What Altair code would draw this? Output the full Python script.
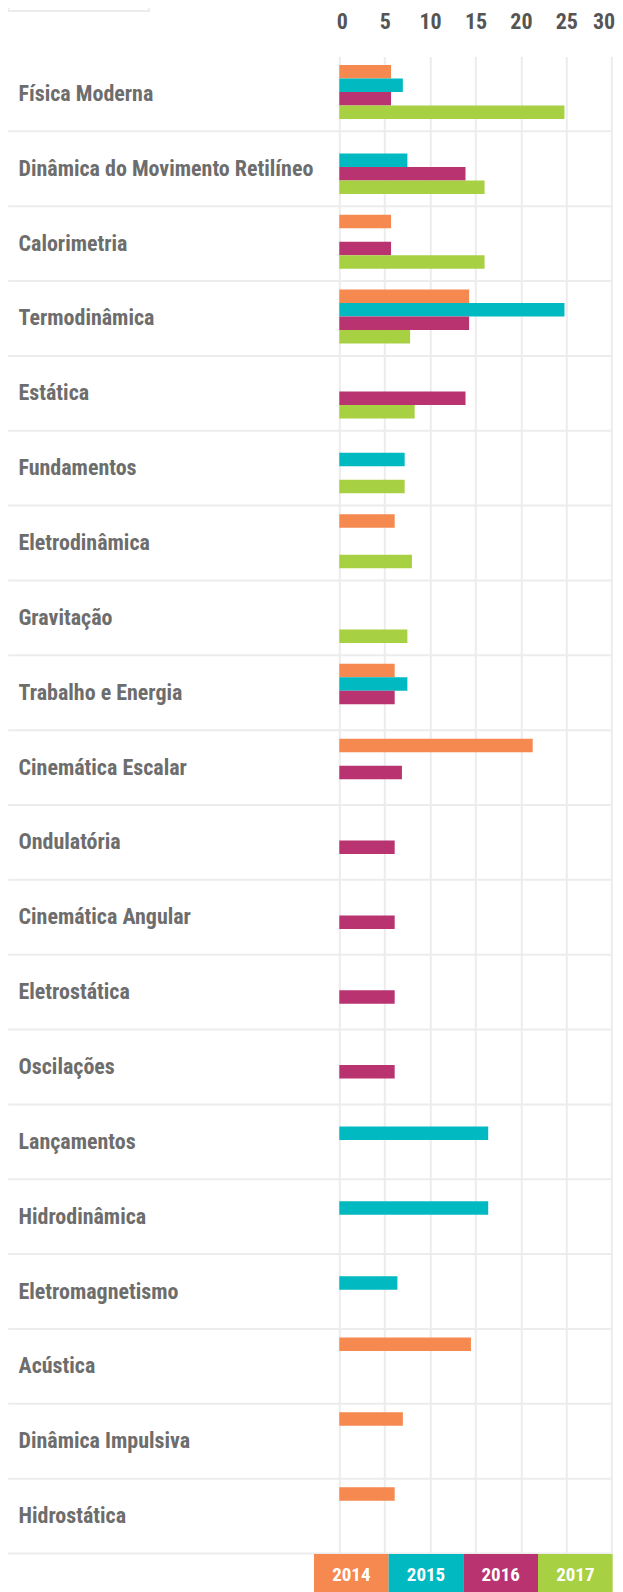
import altair as alt
import pandas as pd

categories = ["Física Moderna", "Dinâmica do Movimento Retilíneo", "Calorimetria",
              "Termodinâmica", "Estática", "Fundamentos", "Eletrodinâmica", "Gravitação",
              "Trabalho e Energia", "Cinemática Escalar", "Ondulatória", "Cinemática Angular",
              "Eletrostática", "Oscilações", "Lançamentos", "Hidrodinâmica",
              "Eletromagnetismo", "Acústica", "Dinâmica Impulsiva", "Hidrostática"]

years = ["2014", "2015", "2016", "2017"]
colors = ["#F58950", "#00B9C1", "#B8336F", "#A8D043"]

v2014 = [5.7, None, 5.7, 14.3, None, None, 6.1, None, 6.1, 21.3,
         None, None, None, None, None, None, None, 14.5, 7.0, 6.1]
v2015 = [7.0, 7.5, None, 24.8, None, 7.2, None, None, 7.5, None,
         None, None, None, None, 16.4, 16.4, 6.4, None, None, None]
v2016 = [5.7, 13.9, 5.7, 14.3, 13.9, None, None, None, 6.1, 6.9,
         6.1, 6.1, 6.1, 6.1, None, None, None, None, None, None]
v2017 = [24.8, 16.0, 16.0, 7.8, 8.3, 7.2, 8.0, 7.5, None, None,
         None, None, None, None, None, None, None, None, None, None]

ticks = [0, 5, 10, 15, 20, 25, 30]

series = dict(zip(years, [v2014, v2015, v2016, v2017]))
rows = []
for y, vals in series.items():
    for c, v in zip(categories, vals):
        if v is not None:
            rows.append({"topic": c, "year": y, "value": v})
df = pd.DataFrame(rows)
sep_df = pd.DataFrame({"topic": categories})
leg_df = pd.DataFrame({"year": years})

FONT = "'Roboto Condensed', 'Open Sans Condensed', sans-serif"
W = 272.4
H = 1497

color_scale = alt.Scale(domain=years, range=colors)
y_scale = alt.Scale(domain=categories, paddingInner=0, paddingOuter=0)

bars = alt.Chart(df).mark_bar().encode(
    x=alt.X("value:Q",
            scale=alt.Scale(domain=[0, 30], nice=False, zero=True),
            axis=alt.Axis(orient="top", values=ticks, title=None, grid=True,
                          gridColor="#ececec", gridWidth=2, domain=False,
                          ticks=False, tickSize=0, labelPadding=35,
                          labelBaseline="middle", labelFont=FONT, labelFontSize=22,
                          labelFontWeight="bold", labelColor="#555555",
                          labelFlush=True, labelFlushOffset=3)),
    y=alt.Y("topic:N", sort=categories, scale=y_scale,
            axis=alt.Axis(title=None, labelAlign="left", labelPadding=321.3,
                          ticks=False, tickSize=0, domain=False, grid=False,
                          labelBaseline="middle", labelFont=FONT, labelFontSize=22,
                          labelFontWeight="bold", labelColor="#6d6d6d",
                          labelLimit=330)),
    yOffset=alt.YOffset("year:N", sort=years,
                        scale=alt.Scale(domain=years, paddingInner=0,
                                        paddingOuter=0.7726, align=0.41)),
    color=alt.Color("year:N", scale=color_scale, legend=None),
)

seps = alt.Chart(sep_df).mark_rule(color="#ececec", strokeWidth=2).encode(
    y=alt.Y("topic:N", sort=categories, scale=y_scale, bandPosition=1),
    x=alt.value(-331),
    x2=alt.value(W),
)

leg_x = alt.X("year:N", sort=years,
              scale=alt.Scale(domain=years, range=[-25.3, 273.4],
                              paddingInner=0, paddingOuter=0),
              axis=None)

leg_rect = alt.Chart(leg_df).mark_rect().encode(
    x=leg_x,
    y=alt.value(1497.5),
    y2=alt.value(1548),
    color=alt.Color("year:N", scale=color_scale, legend=None),
)

leg_text = alt.Chart(leg_df).mark_text(
    color="white", font=FONT, fontSize=19, fontWeight="bold",
    baseline="middle", align="center"
).encode(
    x=leg_x,
    y=alt.value(1519),
    text="year:N",
)

top_box = alt.Chart(pd.DataFrame({"k": [0]})).mark_rect(
    fill="white", stroke="#ececec", strokeWidth=2
).encode(
    x=alt.value(-331), x2=alt.value(-190.5),
    y=alt.value(-90), y2=alt.value(-45.5),
)

chart = alt.layer(seps, bars, leg_rect, leg_text, top_box).resolve_scale(
    x="independent"
).properties(
    width=W, height=H,
    autosize=alt.AutoSizeParams(type="none"),
    padding={"left": 331.3, "top": 48.5, "right": 3, "bottom": 40},
    background="white",
).configure_view(strokeWidth=0)

chart.save("out.html", embed_options={"renderer": "svg", "actions": False})
